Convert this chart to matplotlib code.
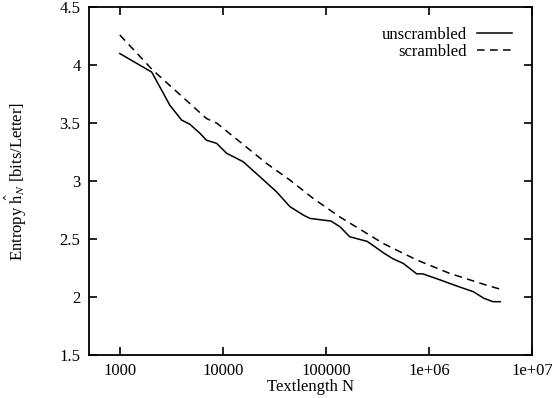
import numpy as np
import matplotlib.pyplot as plt
from matplotlib.ticker import FixedLocator, FixedFormatter, NullLocator

plt.rcParams['font.family'] = ['Liberation Serif', 'DejaVu Serif']
plt.rcParams['mathtext.fontset'] = 'stix'

# log10(N) and entropy values
logN_unscr = [3.0, 3.31, 3.485, 3.60, 3.68, 3.78, 3.84, 3.94, 4.036, 4.197,
              4.36, 4.52, 4.65, 4.78, 4.845, 4.97, 5.05, 5.136, 5.23, 5.40,
              5.56, 5.65, 5.75, 5.88, 5.94, 6.11, 6.27, 6.43, 6.53, 6.62, 6.69]
h_unscr = [4.10, 3.94, 3.655, 3.526, 3.49, 3.41, 3.353, 3.325, 3.24, 3.167,
           3.037, 2.908, 2.78, 2.707, 2.678, 2.664, 2.655, 2.606, 2.52, 2.48,
           2.38, 2.33, 2.29, 2.20, 2.20, 2.147, 2.095, 2.046, 1.99, 1.96, 1.96]

logN_scr = [3.0, 3.32, 3.84, 3.94, 4.165, 4.424, 4.65, 4.877, 5.136, 5.56,
            5.88, 6.20, 6.53, 6.72]
h_scr = [4.26, 3.957, 3.54, 3.50, 3.339, 3.152, 3.009, 2.85, 2.69, 2.46,
         2.32, 2.204, 2.11, 2.06]

xticks = [1e3, 1e4, 1e5, 1e6, 1e7]
xticklabels = ['1000', '10000', '100000', '1e+06', '1e+07']
yticks = [1.5, 2, 2.5, 3, 3.5, 4, 4.5]
yticklabels = ['1.5', '2', '2.5', '3', '3.5', '4', '4.5']

fig = plt.figure(figsize=(5.52, 3.98), dpi=100)
ax = fig.add_axes([0.161, 0.108, 0.803, 0.874])

ax.plot(10 ** np.array(logN_unscr), h_unscr, color='black', lw=1.1,
        label='unscrambled')
ax.plot(10 ** np.array(logN_scr), h_scr, color='black', lw=1.1,
        dashes=(5, 3.5), label='scrambled')

ax.set_xscale('log')
ax.set_xlim(10 ** 2.70, 1e7)
ax.set_ylim(1.5, 4.5)
ax.xaxis.set_major_locator(FixedLocator(xticks))
ax.xaxis.set_major_formatter(FixedFormatter(xticklabels))
ax.xaxis.set_minor_locator(NullLocator())
ax.yaxis.set_major_locator(FixedLocator(yticks))
ax.yaxis.set_major_formatter(FixedFormatter(yticklabels))

ax.tick_params(direction='in', top=True, right=True, length=6, width=1.2,
               labelsize=12, pad=6)
for s in ax.spines.values():
    s.set_linewidth(1.3)

ax.set_xlabel('Textlength N', fontsize=12, labelpad=0)
ax.set_ylabel(r'Entropy $\hat{\mathrm{h}}_N$ [bits/Letter]', fontsize=12,
              labelpad=22)

ax.legend(loc='upper right', frameon=False, markerfirst=False, fontsize=12,
          handlelength=2.1, handletextpad=0.6, labelspacing=0.05,
          borderaxespad=0.8)

fig.savefig('out.png', dpi=100)
